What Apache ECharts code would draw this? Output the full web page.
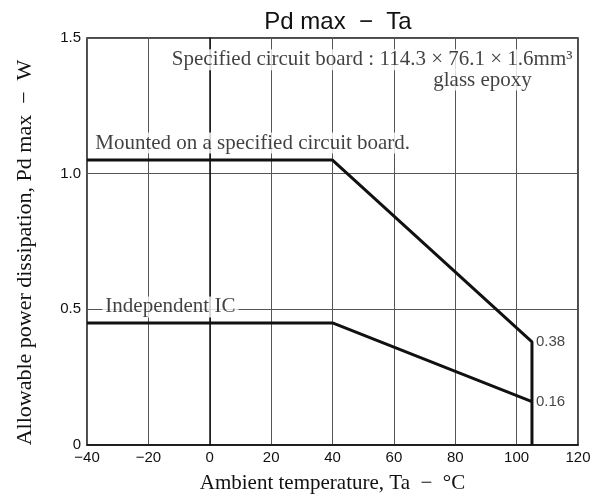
<!DOCTYPE html>
<html>
<head>
<meta charset="utf-8">
<script src="https://cdn.jsdelivr.net/npm/echarts@6/dist/echarts.min.js"></script>
<style>html,body{margin:0;padding:0;background:#fff;}#c{width:604px;height:499px;}</style>
</head>
<body>
<div id="c"></div>
<script>
// Data
var xTicks = [-40, -20, 0, 20, 40, 60, 80, 100, 120];
var yTicks = [0, 0.5, 1.0, 1.5];
var mountedTemps = [-40, 40, 105, 105];
var mountedPd = [1.05, 1.05, 0.38, 0];
var independentTemps = [-40, 40, 105];
var independentPd = [0.45, 0.45, 0.16];
var endLabels = [[105, 0.38, '0.38'], [105, 0.16, '0.16']];

function pairs(xs, ys) { return xs.map(function (x, i) { return [x, ys[i]]; }); }

var serif = '"Liberation Serif", "Times New Roman", serif';
var sans = '"Liberation Sans", Arial, sans-serif';

var chart = echarts.init(document.getElementById('c'));
chart.setOption({
  animation: false,
  backgroundColor: '#fff',
  title: {
    text: 'Pd max  \u2212  Ta',
    left: 333, top: 5, textAlign: 'center',
    textStyle: { fontFamily: sans, fontSize: 24, fontWeight: 'normal', color: '#111' }
  },
  grid: { left: 87, right: 26, top: 38, bottom: 54, show: true, borderColor: '#111', borderWidth: 1.5, backgroundColor: 'transparent' },
  xAxis: {
    type: 'value', min: -40, max: 120, interval: 20,
    name: 'Ambient temperature, Ta  \u2212  \u00b0C',
    nameLocation: 'middle', nameGap: 28,
    nameTextStyle: { fontFamily: serif, fontSize: 21, color: '#111' },
    axisLine: { show: true, lineStyle: { color: '#111', width: 1.5 } },
    axisTick: { show: false },
    axisLabel: { fontFamily: sans, fontSize: 15, color: '#111', margin: 5,
      formatter: function (v) { return v < 0 ? '\u2212' + Math.abs(v) : String(v); } },
    splitLine: { show: true, lineStyle: { color: '#555', width: 1 } }
  },
  yAxis: {
    type: 'value', min: 0, max: 1.5, interval: 0.5,
    name: 'Allowable power dissipation, Pd max  \u2212  W',
    nameLocation: 'middle', nameGap: 51,
    nameTextStyle: { fontFamily: serif, fontSize: 22, color: '#111', padding: [0, 22, 0, 0] },
    axisLine: { show: true, lineStyle: { color: '#111', width: 1.5 } },
    axisTick: { show: false },
    axisLabel: { fontFamily: sans, fontSize: 15, color: '#111', margin: 6,
      formatter: function (v) { return v === 0 ? '0' : v.toFixed(1); } },
    splitLine: { show: true, lineStyle: { color: '#555', width: 1 } }
  },
  series: [
    {
      type: 'line', data: pairs(mountedTemps, mountedPd), symbol: 'none',
      lineStyle: { color: '#111', width: 3 }, z: 3
    },
    {
      type: 'line', data: pairs(independentTemps, independentPd), symbol: 'none',
      lineStyle: { color: '#111', width: 3 }, z: 3
    },
    {
      type: 'scatter', symbolSize: 0, z: 5,
      data: endLabels.map(function (d) { return { value: [d[0], d[1]], name: d[2] }; }),
      label: { show: true, position: 'right', distance: 4, formatter: '{b}',
        fontFamily: sans, fontSize: 15, color: '#111' }
    },
    {
      type: 'scatter', symbolSize: 0, z: 6,
      data: [
        { value: [-38.3, 1.113], name: 'Mounted on a specified circuit board.' },
        { value: [-35, 0.509], name: 'Independent IC' }
      ],
      label: { show: true, position: 'right', distance: 0, formatter: '{b}',
        fontFamily: serif, fontSize: 21, color: '#111', backgroundColor: '#fff',
        padding: [0, 3, 0, 3] }
    },
    {
      type: 'scatter', symbolSize: 0, z: 6,
      data: [
        { value: [119.2, 1.42], name: 'Specified circuit board : 114.3 \u00d7 76.1 \u00d7 1.6mm\u00b3' }
      ],
      label: { show: true, position: 'left', distance: 0, formatter: '{b}',
        fontFamily: serif, fontSize: 21, color: '#111', backgroundColor: '#fff',
        padding: [0, 3, 0, 3] }
    },
    {
      type: 'scatter', symbolSize: 0, z: 6,
      data: [
        { value: [88.9, 1.345], name: 'glass epoxy' }
      ],
      label: { show: true, position: 'inside', formatter: '{b}',
        fontFamily: serif, fontSize: 21, color: '#111', backgroundColor: '#fff',
        padding: [0, 3, 0, 3] }
    }
  ]
});
</script>
</body>
</html>
